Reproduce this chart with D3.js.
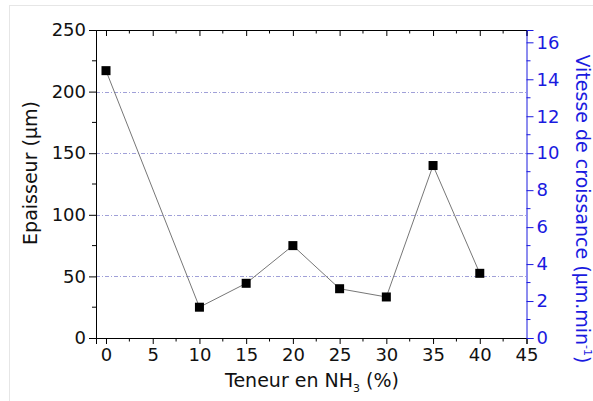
<!DOCTYPE html>
<html><head><meta charset="utf-8">
<script src="https://cdn.jsdelivr.net/npm/d3@7"></script>
<style>body{margin:0;background:#fff}svg{display:block}svg text{font-family:"DejaVu Sans",Verdana,sans-serif}</style>
</head><body><svg id="c" width="593" height="401"></svg>
<script>
const nh3 = [0, 10, 15, 20, 25, 30, 35, 40];
const epaisseur = [217, 25, 44.4, 75, 40, 33.3, 140, 52.5];
const xTicks = [0, 5, 10, 15, 20, 25, 30, 35, 40, 45];
const yTicks = [0, 50, 100, 150, 200, 250];
const y2Ticks = [0, 2, 4, 6, 8, 10, 12, 14, 16];
const gridVals = [50, 100, 150, 200];

const svg = d3.select("#c");
const L = 96, R = 526.5, T = 30, B = 338;
const x = d3.scaleLinear().domain([-1.07, 45]).range([L, R]);
const y = d3.scaleLinear().domain([0, 250]).range([B, T]);
const y2 = d3.scaleLinear().domain([0, 250/15]).range([B, T]);
const blue = "#1a1adf";
const FF = '"DejaVu Sans", Verdana, sans-serif';

// faint outer frame
svg.append("line").attr("x1",9.5).attr("x2",9.5).attr("y1",5).attr("y2",401).attr("stroke","#e6e6e6");
svg.append("line").attr("x1",9.5).attr("x2",593).attr("y1",5.5).attr("y2",5.5).attr("stroke","#e6e6e6");

// grid
svg.append("g").selectAll("line").data(gridVals).join("line")
  .attr("x1", L).attr("x2", R).attr("y1", d => Math.round(y(d))+0.5).attr("y2", d => Math.round(y(d))+0.5)
  .attr("stroke", "#a0a0d8").attr("stroke-width", 1).attr("stroke-dasharray", "4,2,1,2");

const fs = "18px";
function styleTicks(g, col) {
  g.attr("font-family", FF);
  g.selectAll("text").style("font-size", fs).style("font-family", FF).attr("fill", col);
}
// bottom axis
const gx = svg.append("g").attr("transform", `translate(0,${B})`)
  .call(d3.axisBottom(x).tickValues(xTicks).tickSize(6).tickPadding(4));
styleTicks(gx, "#111");
gx.append("g").selectAll("line").data(d3.range(2.5, 45, 5)).join("line")
  .attr("x1", d => x(d)).attr("x2", d => x(d)).attr("y1", 0).attr("y2", 3.5).attr("stroke", "#000");
// top axis (inward ticks)
const gt = svg.append("g").attr("transform", `translate(0,${T})`)
  .call(d3.axisBottom(x).tickValues(xTicks).tickSize(6).tickFormat(""));
gt.append("g").selectAll("line").data(d3.range(2.5, 45, 5)).join("line")
  .attr("x1", d => x(d)).attr("x2", d => x(d)).attr("y1", 0).attr("y2", 3.5).attr("stroke", "#000");

// left axis
const gy = svg.append("g").attr("transform", `translate(${L},0)`)
  .call(d3.axisLeft(y).tickValues(yTicks).tickSize(7).tickPadding(3));
styleTicks(gy, "#111");
gy.append("g").selectAll("line").data(d3.range(25, 250, 50)).join("line")
  .attr("x1", 0).attr("x2", -4).attr("y1", d => y(d)).attr("y2", d => y(d)).attr("stroke", "#000");

// right axis
const gr = svg.append("g").attr("transform", `translate(${R},0)`)
  .call(d3.axisRight(y2).tickValues(y2Ticks).tickSize(7).tickPadding(3));
gr.selectAll("path,line").attr("stroke", blue);
styleTicks(gr, blue);
gr.append("g").selectAll("line").data(d3.range(1, 16.6, 2)).join("line")
  .attr("x1", 0).attr("x2", 4).attr("y1", d => y2(d)).attr("y2", d => y2(d)).attr("stroke", blue);

// titles
svg.append("text").attr("transform", `translate(37,173) rotate(-90)`)
  .attr("text-anchor", "middle").style("font-size", "19px").attr("fill", "#111").text("Epaisseur (µm)");
const t2 = svg.append("text").attr("transform", `translate(576,209) rotate(90)`)
  .attr("text-anchor", "middle").style("font-size", "19px").attr("fill", blue);
t2.append("tspan").text("Vitesse de croissance (µm.min");
t2.append("tspan").attr("dy", -8).style("font-size", "11px").text("-1");
t2.append("tspan").attr("dy", 8).text(")");
const t1 = svg.append("text").attr("x", 312).attr("y", 387)
  .attr("text-anchor", "middle").style("font-size", "19px").attr("fill", "#111");
t1.append("tspan").text("Teneur en NH");
t1.append("tspan").attr("dy", 5).style("font-size", "11px").text("3");
t1.append("tspan").attr("dy", -5).text(" (%)");

// data line + markers
const pts = nh3.map((d, i) => [d, epaisseur[i]]);
svg.append("path").datum(pts).attr("fill", "none").attr("stroke", "#777").attr("stroke-width", 1)
  .attr("d", d3.line().x(d => x(d[0])).y(d => y(d[1])));
svg.append("g").selectAll("rect").data(pts).join("rect")
  .attr("x", d => x(d[0]) - 4.5).attr("y", d => y(d[1]) - 4.5).attr("width", 9).attr("height", 9)
  .attr("fill", "#000");
</script></body></html>
